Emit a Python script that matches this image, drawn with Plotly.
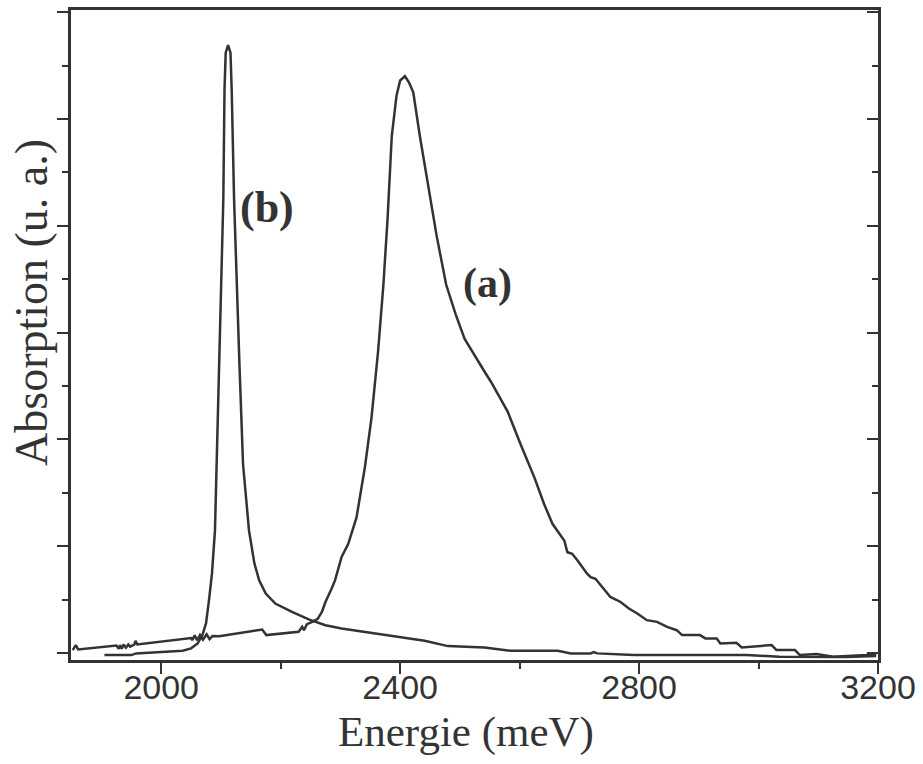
import plotly.graph_objects as go

# Absorption spectra, energy in meV, absorption in arbitrary units
energy_a = [1852, 1857, 1861, 1900, 1925, 1929, 1931, 1934, 1937, 1941, 1945, 1948,
            1955, 1957, 1960, 2050, 2052, 2056, 2060, 2065, 2070, 2076, 2081, 2086,
            2097, 2169, 2176, 2230, 2236, 2239, 2244, 2252, 2262, 2269, 2275, 2285,
            2291, 2302, 2313, 2327, 2341, 2352, 2363, 2372, 2379, 2386, 2394, 2400,
            2408, 2415, 2422, 2433, 2447, 2461, 2477, 2493, 2508, 2527, 2544, 2552,
            2566, 2580, 2602, 2625, 2641, 2655, 2675, 2680, 2688, 2697, 2713, 2719,
            2727, 2741, 2752, 2769, 2783, 2797, 2813, 2830, 2847, 2863, 2872, 2902,
            2911, 2930, 2936, 2963, 2972, 3022, 3030, 3061, 3069, 3097, 3125, 3180,
            3197]
absorb_a = [0.028, 0.075, 0.034, 0.055, 0.07, 0.04, 0.075, 0.04, 0.08, 0.05, 0.08, 0.06,
            0.08, 0.115, 0.08, 0.14, 0.12, 0.165, 0.12, 0.17, 0.125, 0.175, 0.13, 0.16,
            0.158, 0.22, 0.168, 0.20, 0.245, 0.215, 0.27, 0.29, 0.32, 0.385, 0.478, 0.60,
            0.68, 0.90, 1.02, 1.27, 1.74, 2.20, 2.82, 3.45, 4.07, 4.84, 5.22, 5.36,
            5.40, 5.34, 5.25, 4.84, 4.38, 3.91, 3.45, 3.17, 2.94, 2.76, 2.61, 2.54,
            2.40, 2.26, 1.95, 1.64, 1.395, 1.21, 1.05, 0.944, 0.93, 0.867, 0.743, 0.711,
            0.696, 0.603, 0.525, 0.478, 0.417, 0.370, 0.308, 0.292, 0.245, 0.214, 0.168, 0.168,
            0.137, 0.137, 0.090, 0.096, 0.053, 0.075, 0.028, 0.028, -0.019, -0.009, -0.034, -0.019,
            -0.009]

energy_b = [1905, 1950, 1958, 1997, 2036, 2050, 2061, 2069, 2075, 2080, 2085, 2090,
            2097, 2104, 2106, 2108, 2112, 2116, 2118, 2122, 2131, 2137, 2147, 2156,
            2164, 2175, 2191, 2219, 2247, 2275, 2302, 2330, 2385, 2441, 2480, 2541,
            2586, 2664, 2686, 2719, 2724, 2730, 2791, 2880, 2914, 2980, 3035, 3147,
            3197]
absorb_b = [-0.019, -0.019, -0.003, 0.012, 0.021, 0.044, 0.09, 0.168, 0.277, 0.494, 0.743, 1.146,
            2.70, 4.25, 5.28, 5.62, 5.69, 5.62, 5.28, 4.25, 2.70, 1.77, 1.146, 0.84,
            0.68, 0.557, 0.463, 0.385, 0.315, 0.261, 0.23, 0.208, 0.158, 0.115, 0.065, 0.053,
            0.021, 0.021, -0.003, -0.003, 0.009, -0.003, -0.019, -0.019, -0.025, -0.019, -0.034, -0.037,
            -0.028]

x_ticks = [2000, 2400, 2800, 3200]
x_minor = [2200, 2600, 3000]
x_range = [1849, 3200]
y_range = [-0.065, 6.02]

ink = "#333333"
line_style = dict(color=ink, width=2.5)

fig = go.Figure()
fig.add_trace(go.Scatter(x=energy_a, y=absorb_a, mode="lines", line=line_style,
                         name="(a)", showlegend=False))
fig.add_trace(go.Scatter(x=energy_b, y=absorb_b, mode="lines", line=line_style,
                         name="(b)", showlegend=False))
# carrier trace for the right-hand axis with inward ticks
fig.add_trace(go.Scatter(x=[None], y=[None], yaxis="y2", mode="lines",
                         showlegend=False, hoverinfo="skip"))

fig.add_annotation(x=2177, y=4.175, text="<b>(b)</b>", showarrow=False,
                   font=dict(family="Liberation Serif", size=44, color=ink))
fig.add_annotation(x=2546, y=3.46, text="<b>(a)</b>", showarrow=False,
                   font=dict(family="Liberation Serif", size=42, color=ink))

fig.add_annotation(x=0.49, y=-0.11, xref="paper", yref="paper",
                   xanchor="center", yanchor="middle",
                   text="Energie (meV)", showarrow=False,
                   font=dict(family="Liberation Serif", size=43, color=ink))
fig.add_annotation(x=-0.049, y=0.55, xref="paper", yref="paper",
                   xanchor="center", yanchor="middle",
                   text="Absorption (u. a.)", showarrow=False, textangle=-90,
                   font=dict(family="Liberation Serif", size=46, color=ink))

fig.update_layout(
    width=923, height=764,
    margin=dict(l=71, r=42, t=7, b=104),
    paper_bgcolor="white", plot_bgcolor="white",
    xaxis=dict(
        range=x_range, tickvals=x_ticks, ticktext=[str(v) for v in x_ticks],
        ticks="outside", ticklen=11, tickwidth=2, tickcolor=ink,
        ticklabelstandoff=-16,
        minor=dict(tickvals=x_minor, ticks="outside", ticklen=6,
                   tickwidth=2, tickcolor=ink),
        showline=True, linewidth=2.5, linecolor=ink, mirror=True,
        showgrid=False, zeroline=False,
        tickfont=dict(family="Liberation Sans", size=34, color=ink),
    ),
    yaxis=dict(
        range=y_range, dtick=1, tick0=0,
        ticks="outside", ticklen=11, tickwidth=2, tickcolor=ink,
        minor=dict(dtick=0.5, ticks="outside", ticklen=6, tickwidth=2, tickcolor=ink),
        showticklabels=False,
        showline=True, linewidth=2.5, linecolor=ink, mirror=True,
        showgrid=False, zeroline=False,
    ),
    yaxis2=dict(
        range=y_range, dtick=1, tick0=0, overlaying="y", side="right",
        ticks="inside", ticklen=11, tickwidth=2, tickcolor=ink,
        minor=dict(dtick=0.5, ticks="inside", ticklen=6, tickwidth=2, tickcolor=ink),
        showticklabels=False,
        showline=True, linewidth=2.5, linecolor=ink,
        showgrid=False, zeroline=False,
    ),
)

fig.write_html("out.html")
